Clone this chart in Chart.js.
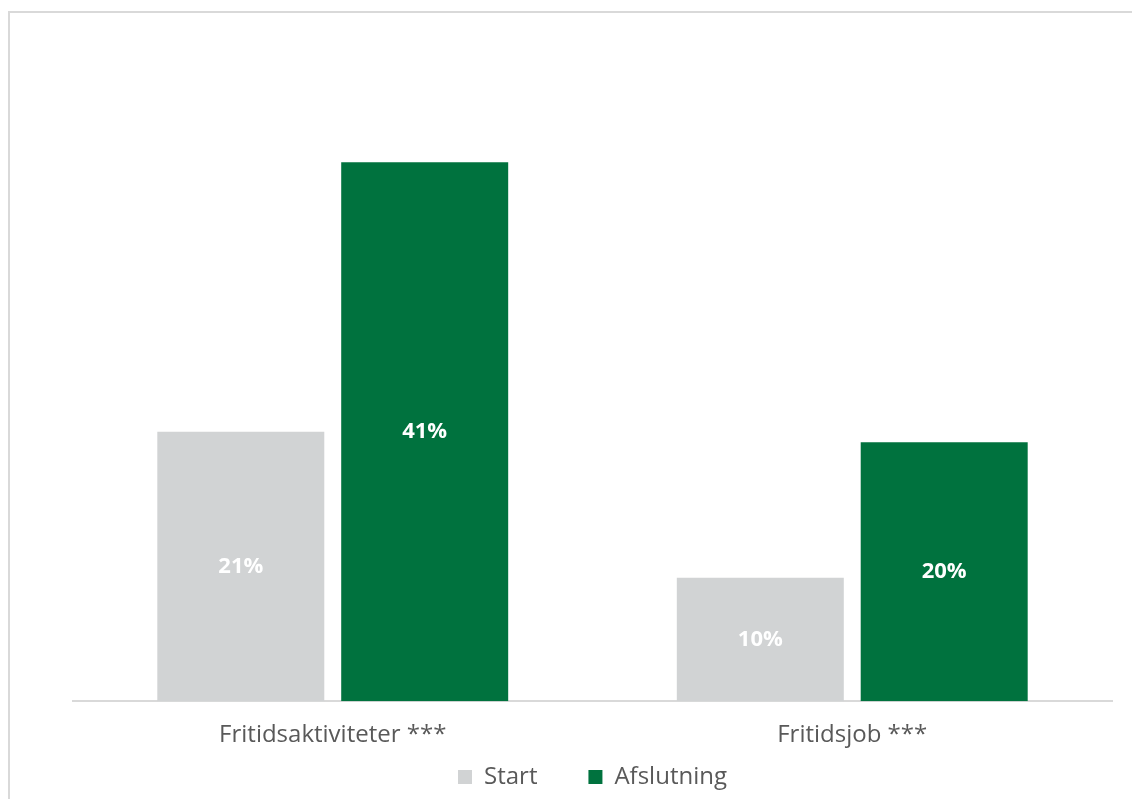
<!DOCTYPE html>
<html>
<head>
<meta charset="utf-8">
<script src="https://cdn.jsdelivr.net/npm/chart.js@4/dist/chart.umd.min.js"></script>
<style>
  html, body { margin: 0; padding: 0; background: #fff; overflow: hidden; }
  #frame { position: absolute; left: 8px; top: 11px; width: 1140px; height: 800px; border: 2px solid #d9d9d9; box-sizing: border-box; }
  #wrap { position: absolute; left: 0; top: 0; width: 1132px; height: 799px; }
</style>
</head>
<body>
<div id="frame"></div>
<div id="wrap"><canvas id="barChart"></canvas></div>
<script>
// data
const categories = ['Fritidsaktiviteter ***', 'Fritidsjob ***'];
const startValues = [20.5, 9.4];
const endValues = [41, 19.7];
const startLabels = ['21%', '10%'];
const endLabels = ['41%', '20%'];
const seriesNames = ['Start', 'Afslutning'];

// draws the % text in the middle of each bar
const barLabels = {
  id: 'barLabels',
  afterDatasetsDraw(chart) {
    const ctx = chart.ctx;
    const texts = [startLabels, endLabels];
    ctx.save();
    ctx.fillStyle = '#ffffff';
    ctx.font = '700 22px "Open Sans"';
    ctx.textAlign = 'center';
    ctx.textBaseline = 'middle';
    chart.data.datasets.forEach((ds, di) => {
      chart.getDatasetMeta(di).data.forEach((bar, i) => {
        const mid = (bar.y + bar.base) / 2;
        ctx.fillText(texts[di][i], bar.x, mid);
      });
    });
    ctx.restore();
  }
};

const ctx = document.getElementById('barChart').getContext('2d');
new Chart(ctx, {
  type: 'bar',
  data: {
    labels: categories,
    datasets: [
      { label: seriesNames[0], data: startValues, backgroundColor: '#d1d3d4' },
      { label: seriesNames[1], data: endValues, backgroundColor: '#00723e' }
    ]
  },
  options: {
    responsive: true, maintainAspectRatio: false, animation: false,
    categoryPercentage: 0.708, barPercentage: 0.908,
    layout: { padding: { left: 73, right: 20, top: 44, bottom: 0 } },
    scales: {
      y: { display: false, min: 0, max: 50 },
      x: {
        grid: { display: false },
        border: { display: true, color: '#d9d9d9', width: 2 },
        ticks: { color: '#595959', padding: 12, font: { family: 'Open Sans', size: 24 } }
      }
    },
    plugins: {
      legend: {
        position: 'bottom',
        labels: {
          color: '#595959', boxWidth: 14, boxHeight: 14, padding: 3,
          font: { family: 'Open Sans', size: 24 },
          // extra space after the first item, like the original legend
          generateLabels(chart) {
            const items = Chart.defaults.plugins.legend.labels.generateLabels(chart);
            items[0].text = items[0].text + '\u2003\u2003';
            return items;
          }
        }
      },
      tooltip: { enabled: false }
    }
  },
  plugins: [barLabels]
});
</script>
</body>
</html>
